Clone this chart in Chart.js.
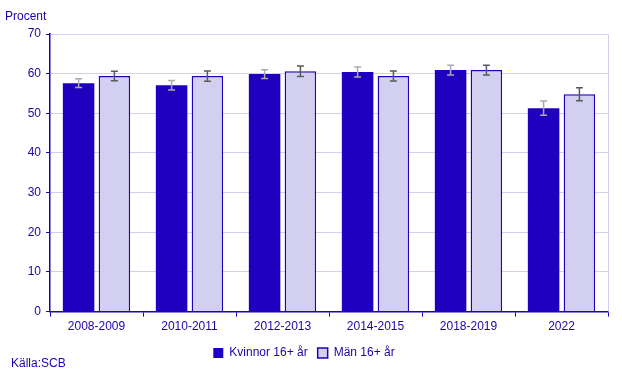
<!DOCTYPE html>
<html>
<head>
<meta charset="utf-8">
<script src="https://cdn.jsdelivr.net/npm/chart.js@4.4.0/dist/chart.umd.min.js"></script>
<style>
  html, body { margin: 0; padding: 0; background: #fff; }
  #wrap { position: relative; width: 622px; height: 376px; font-family: "Liberation Sans", Arial, sans-serif; color: #2200aa; }
  #chart { position: absolute; left: 0; top: 0; }
  .note { position: absolute; font-size: 12px; }
</style>
</head>
<body>
<div id="wrap">
  <canvas id="chart" width="622" height="376"></canvas>
  <div class="note" style="left:5px; top:9px;">Procent</div>
  <div class="note" style="left:11px; top:356px;">Källa:SCB</div>
</div>
<script>
const categories = ['2008-2009', '2010-2011', '2012-2013', '2014-2015', '2018-2019', '2022']
const women = [57.6, 57.1, 59.9, 60.4, 60.9, 51.3]
const womenErr = [1.1, 1.2, 1.1, 1.25, 1.25, 1.8]
const men = [59.4, 59.4, 60.6, 59.4, 60.9, 54.8]
const menErr = [1.2, 1.3, 1.3, 1.25, 1.25, 1.65]
const yTicks = [0, 10, 20, 30, 40, 50, 60, 70]

const textColor = '#2200aa'
const darkBlue = '#1e00be'
const lavender = '#d3cff0'

// error bars drawn through the y scale
const errorBars = {
  id: 'errorBars',
  afterDatasetsDraw(chart) {
    const ctx = chart.ctx
    const y = chart.scales.y
    const errs = [womenErr, menErr]
    const colors = ['#ababab', '#5a5a5a']
    chart.data.datasets.forEach((ds, i) => {
      const meta = chart.getDatasetMeta(i)
      meta.data.forEach((bar, j) => {
        const v = ds.data[j]
        const top = y.getPixelForValue(v + errs[i][j])
        const bot = y.getPixelForValue(v - errs[i][j])
        ctx.save()
        ctx.strokeStyle = colors[i]
        ctx.lineWidth = 1.5
        ctx.beginPath()
        ctx.moveTo(bar.x, top); ctx.lineTo(bar.x, bot)
        ctx.moveTo(bar.x - 3.5, top); ctx.lineTo(bar.x + 3.5, top)
        ctx.moveTo(bar.x - 3.5, bot); ctx.lineTo(bar.x + 3.5, bot)
        ctx.stroke()
        ctx.restore()
      })
    })
  }
}

// right border of the plot area
const rightBorder = {
  id: 'rightBorder',
  beforeDatasetsDraw(chart) {
    const { ctx, chartArea } = chart
    ctx.save()
    ctx.strokeStyle = lavender
    ctx.lineWidth = 1
    ctx.beginPath()
    ctx.moveTo(chartArea.right + 0.5, chartArea.top)
    ctx.lineTo(chartArea.right + 0.5, chartArea.bottom)
    ctx.stroke()
    ctx.restore()
  }
}

new Chart(document.getElementById('chart'), {
  type: 'bar',
  data: {
    labels: categories,
    datasets: [{
      label: 'Kvinnor 16+ år',
      data: women,
      backgroundColor: darkBlue,
      borderColor: darkBlue,
      borderWidth: 0
    }, {
      label: 'Män 16+ år',
      data: men,
      backgroundColor: lavender,
      borderColor: darkBlue,
      borderWidth: 1.5
    }]
  },
  options: {
    responsive: false,
    animation: false,
    categoryPercentage: 0.77,
    barPercentage: 0.88,
    layout: { padding: { top: 34, right: 14, left: 0, bottom: 7 } },
    font: { family: '"Liberation Sans", Arial, sans-serif', size: 12 },
    plugins: {
      legend: {
        position: 'bottom',
        labels: {
          color: textColor,
          boxWidth: 10,
          boxHeight: 10,
          padding: 10,
          font: { family: '"Liberation Sans", Arial, sans-serif', size: 12 }
        }
      },
      tooltip: { enabled: false }
    },
    scales: {
      x: {
        grid: {
          offset: true,
          drawOnChartArea: false,
          drawTicks: true,
          tickLength: 5,
          color: darkBlue
        },
        border: { color: darkBlue, width: 1.5 },
        ticks: {
          color: textColor,
          padding: 3,
          font: { family: '"Liberation Sans", Arial, sans-serif', size: 12 }
        }
      },
      y: {
        min: 0,
        max: 70,
        afterFit(scale) { scale.width = 50 },
        afterBuildTicks(scale) { scale.ticks = yTicks.map(v => ({ value: v })) },
        grid: {
          color: lavender,
          tickColor: darkBlue,
          tickLength: 4
        },
        border: { color: darkBlue, width: 1.5 },
        ticks: {
          color: textColor,
          padding: 5,
          font: { family: '"Liberation Sans", Arial, sans-serif', size: 12 }
        }
      }
    }
  },
  plugins: [rightBorder, errorBars]
})
</script>
</body>
</html>
